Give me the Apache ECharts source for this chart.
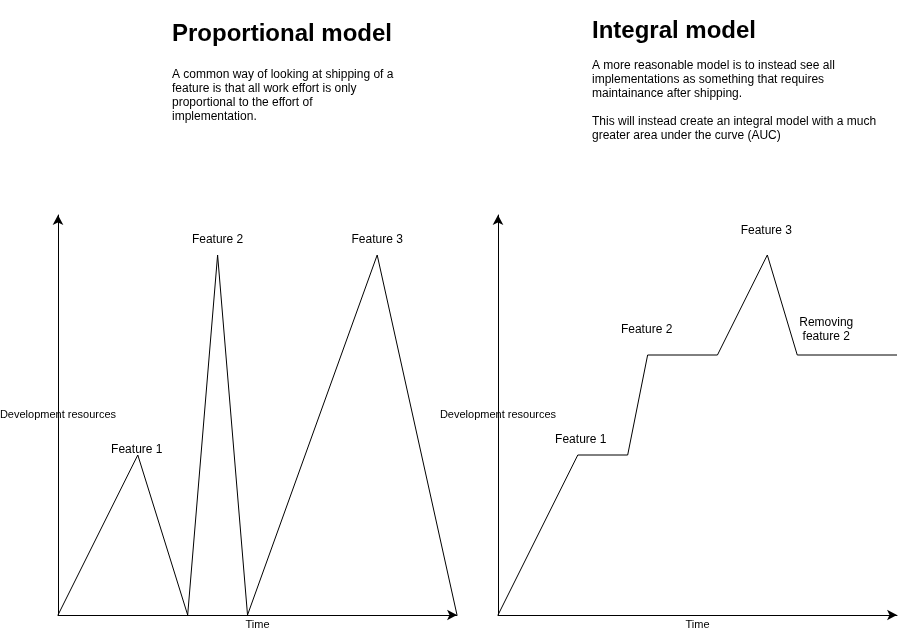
<!DOCTYPE html>
<html>
<head>
<meta charset="utf-8">
<script src="https://cdn.jsdelivr.net/npm/echarts@6/dist/echarts.min.js"></script>
<style>
  html, body { margin: 0; padding: 0; background: #fff; }
  #chart { width: 906px; height: 632px; }
</style>
</head>
<body>
<div id="chart"></div>
<script>
// ---- Data ----
const leftTime    = [0, 8, 13, 16, 19, 32, 40];
const leftEffort  = [0, 16, 0, 36, 0, 36, 0];
const leftLabels  = ['', 'Feature 1', '', 'Feature 2', '', 'Feature 3', ''];

const rightTime   = [0, 8, 13, 15, 22, 27, 30, 40];
const rightEffort = [0, 16, 16, 26, 26, 36, 26, 26];
const rightLabels = ['', 'Feature 1', '', 'Feature 2', '', 'Feature 3', 'Removing\nfeature 2', ''];

const titles = ['Proportional model', 'Integral model'];
const descriptions = [
  'A common way of looking at shipping of a\nfeature is that all work effort is only\nproportional to the effort of\nimplementation.',
  'A more reasonable model is to instead see all\nimplementations as something that requires\nmaintainance after shipping.\n\nThis will instead create an integral model with a much\ngreater area under the curve (AUC)'
];
const xAxisName = 'Time';
const yAxisName = 'Development resources';
const axisMin = 0;
const axisMax = 40;

// ---- Styling / placement (not data) ----
const FONT = "'Liberation Sans', Helvetica, Arial, sans-serif";
const leftPlacement = {
  1: { distance: -1, offset: [-1, 0] },
  3: { distance: 9, offset: [0, 0] },
  5: { distance: 9, offset: [0, 0] }
};
const rightPlacement = {
  1: { distance: 9, offset: [3, 0] },
  3: { distance: 19, offset: [-1, 0] },
  5: { distance: 18, offset: [-1, 0] },
  6: { distance: 11, offset: [29, 0], lineHeight: 14 }
};

function buildData(xs, ys, labels, placement) {
  return xs.map((x, i) => {
    const item = { value: [x, ys[i]] };
    if (labels[i]) {
      const p = placement[i] || { distance: 0, offset: [0, 0] };
      item.label = {
        show: true,
        position: 'top',
        formatter: labels[i],
        distance: p.distance,
        offset: p.offset,
        fontSize: 12,
        lineHeight: p.lineHeight || 12,
        color: '#000',
        fontFamily: FONT,
        align: 'center'
      };
    }
    return item;
  });
}

function axisLine() {
  return {
    show: true,
    symbol: ['none', 'arrow'],
    symbolSize: [8, 10],
    symbolOffset: [0, 0],
    lineStyle: { color: '#000', width: 1 }
  };
}

function xAxis(gridIndex) {
  return {
    type: 'value', gridIndex, min: axisMin, max: axisMax,
    axisLine: axisLine(), axisTick: { show: false }, axisLabel: { show: false },
    splitLine: { show: false },
    name: xAxisName, nameLocation: 'middle', nameGap: 4,
    nameTextStyle: { fontSize: 11, lineHeight: 11, color: '#000', fontFamily: FONT }
  };
}
function yAxis(gridIndex) {
  return {
    type: 'value', gridIndex, min: axisMin, max: axisMax,
    axisLine: axisLine(), axisTick: { show: false }, axisLabel: { show: false },
    splitLine: { show: false },
    name: yAxisName, nameLocation: 'middle', nameGap: 0, nameRotate: 0,
    nameTruncate: { maxWidth: 300 },
    nameTextStyle: {
      fontSize: 11, lineHeight: 13, color: '#000', fontFamily: FONT,
      align: 'center', verticalAlign: 'middle', backgroundColor: '#fff'
    }
  };
}

function titleBlock(i, left, top, gap) {
  return {
    text: titles[i], subtext: descriptions[i],
    left, top, padding: 0, itemGap: gap,
    textStyle: { fontSize: 24, fontWeight: 'bold', lineHeight: 24, color: '#000', fontFamily: FONT },
    subtextStyle: { fontSize: 12, lineHeight: 14, color: '#000', fontFamily: FONT }
  };
}

const chart = echarts.init(document.getElementById('chart'), null, { renderer: 'canvas' });
chart.setOption({
  animation: false,
  backgroundColor: '#fff',
  title: [
    titleBlock(0, 172, 22, 21.3),
    titleBlock(1, 592, 19.5, 15.3)
  ],
  grid: [
    { left: 58, top: 215, width: 399, height: 400, containLabel: false, outerBoundsMode: 'none' },
    { left: 498, top: 215, width: 399, height: 400, containLabel: false, outerBoundsMode: 'none' }
  ],
  xAxis: [xAxis(0), xAxis(1)],
  yAxis: [yAxis(0), yAxis(1)],
  series: [
    {
      type: 'line', xAxisIndex: 0, yAxisIndex: 0, silent: true,
      symbol: 'circle', symbolSize: 0, showSymbol: true,
      lineStyle: { color: '#000', width: 1 }, itemStyle: { color: '#000' },
      data: buildData(leftTime, leftEffort, leftLabels, leftPlacement)
    },
    {
      type: 'line', xAxisIndex: 1, yAxisIndex: 1, silent: true,
      symbol: 'circle', symbolSize: 0, showSymbol: true,
      lineStyle: { color: '#000', width: 1 }, itemStyle: { color: '#000' },
      data: buildData(rightTime, rightEffort, rightLabels, rightPlacement)
    }
  ]
});
</script>
</body>
</html>
